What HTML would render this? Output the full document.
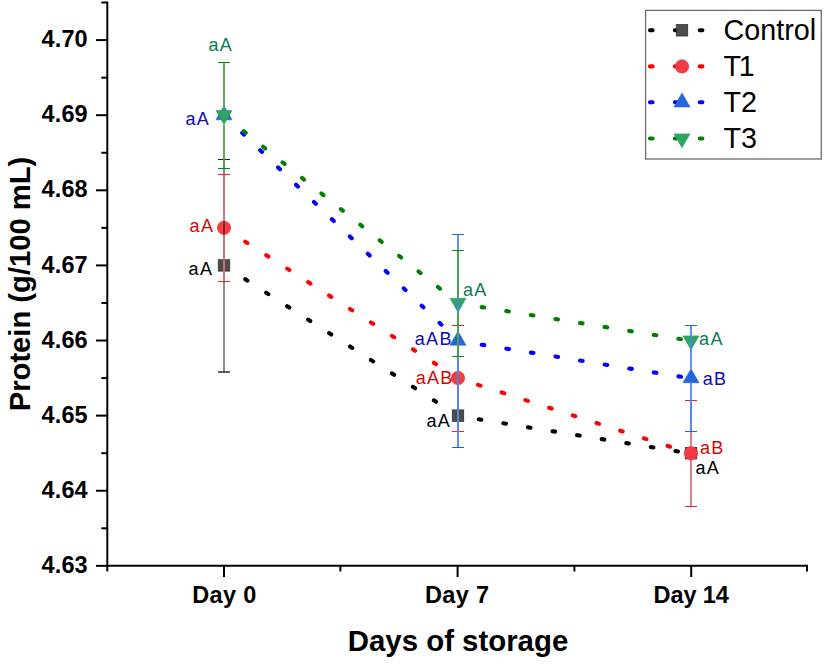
<!DOCTYPE html><html><head><meta charset="utf-8"><style>html,body{margin:0;padding:0;background:#fff;overflow:hidden;}svg{display:block;}text{font-family:"Liberation Sans",sans-serif;}</style></head><body>
<svg width="827" height="666" viewBox="0 0 827 666">
<rect width="827" height="666" fill="#fff"/>
<polyline points="224.30,265.81 458.30,416.03 691.30,453.59" fill="none" stroke="#000000" stroke-width="4.1" stroke-linecap="round" stroke-dasharray="2.6 22.3"/>
<polyline points="224.30,228.26 458.30,378.47 691.30,453.59" fill="none" stroke="#ff0000" stroke-width="4.1" stroke-linecap="round" stroke-dasharray="2.6 22.3"/>
<polyline points="224.30,115.59 458.30,340.92 691.30,378.47" fill="none" stroke="#0000ff" stroke-width="4.1" stroke-linecap="round" stroke-dasharray="2.6 22.3"/>
<polyline points="224.30,115.59 458.30,303.36 691.30,340.92" fill="none" stroke="#008000" stroke-width="4.1" stroke-linecap="round" stroke-dasharray="2.6 22.3"/>
<rect x="218.30" y="259.71" width="11.4" height="11.4" fill="#4d4d4d" stroke="#2e2e2e" stroke-width="0.8"/>
<rect x="452.30" y="409.93" width="11.4" height="11.4" fill="#4d4d4d" stroke="#2e2e2e" stroke-width="0.8"/>
<rect x="685.30" y="447.49" width="11.4" height="11.4" fill="#4d4d4d" stroke="#2e2e2e" stroke-width="0.8"/>
<circle cx="224.00" cy="227.86" r="6.7" fill="#f43c44" stroke="#f02030" stroke-width="0.6"/>
<circle cx="458.00" cy="378.07" r="6.7" fill="#f43c44" stroke="#f02030" stroke-width="0.6"/>
<circle cx="691.00" cy="453.19" r="6.7" fill="#f43c44" stroke="#f02030" stroke-width="0.6"/>
<polygon points="224.00,105.95 216.00,119.81 232.00,119.81" fill="#2466df" stroke="#1d5fdc" stroke-width="0.6"/>
<polygon points="458.00,331.28 450.00,345.14 466.00,345.14" fill="#2466df" stroke="#1d5fdc" stroke-width="0.6"/>
<polygon points="691.00,368.84 683.00,382.69 699.00,382.69" fill="#2466df" stroke="#1d5fdc" stroke-width="0.6"/>
<polygon points="224.00,124.43 216.00,110.57 232.00,110.57" fill="#30a462" stroke="#27a05a" stroke-width="0.6"/>
<polygon points="458.00,312.20 450.00,298.35 466.00,298.35" fill="#30a462" stroke="#27a05a" stroke-width="0.6"/>
<polygon points="691.00,349.76 683.00,335.90 699.00,335.90" fill="#30a462" stroke="#27a05a" stroke-width="0.6"/>
<line x1="224.0" y1="159.5" x2="224.0" y2="259.71" stroke="rgba(0,0,0,0.5)" stroke-width="1.8"/>
<line x1="224.0" y1="271.11" x2="224.0" y2="372.0" stroke="rgba(0,0,0,0.5)" stroke-width="1.8"/>
<line x1="218.0" y1="159.5" x2="230.0" y2="159.5" stroke="#1a1a1a" stroke-width="1"/>
<line x1="218.0" y1="372.0" x2="230.0" y2="372.0" stroke="#1a1a1a" stroke-width="1.4"/>
<line x1="224.0" y1="174.5" x2="224.0" y2="221.06" stroke="#d8737c" stroke-width="1.8"/>
<line x1="224.0" y1="234.66" x2="224.0" y2="281.5" stroke="#d8737c" stroke-width="1.8"/>
<line x1="218.0" y1="174.5" x2="230.0" y2="174.5" stroke="#f01c28" stroke-width="1"/>
<line x1="218.0" y1="281.5" x2="230.0" y2="281.5" stroke="#f01c28" stroke-width="1"/>
<line x1="458.0" y1="325.5" x2="458.0" y2="371.27" stroke="#d8737c" stroke-width="1.8"/>
<line x1="458.0" y1="384.87" x2="458.0" y2="431.5" stroke="#d8737c" stroke-width="1.8"/>
<line x1="452.0" y1="325.5" x2="464.0" y2="325.5" stroke="#f01c28" stroke-width="1"/>
<line x1="452.0" y1="431.5" x2="464.0" y2="431.5" stroke="#f01c28" stroke-width="1"/>
<line x1="691.0" y1="400.5" x2="691.0" y2="446.39" stroke="#d8737c" stroke-width="1.8"/>
<line x1="691.0" y1="459.99" x2="691.0" y2="506.5" stroke="#d8737c" stroke-width="1.8"/>
<line x1="685.0" y1="400.5" x2="697.0" y2="400.5" stroke="#f01c28" stroke-width="1"/>
<line x1="685.0" y1="506.5" x2="697.0" y2="506.5" stroke="#f01c28" stroke-width="1"/>
<line x1="458.0" y1="234.5" x2="458.0" y2="331.28" stroke="#4a88ee" stroke-width="1.8"/>
<line x1="458.0" y1="345.14" x2="458.0" y2="447.5" stroke="#4a88ee" stroke-width="1.8"/>
<line x1="452.0" y1="234.5" x2="464.0" y2="234.5" stroke="#1f5fe0" stroke-width="1"/>
<line x1="452.0" y1="447.5" x2="464.0" y2="447.5" stroke="#1f5fe0" stroke-width="1"/>
<line x1="691.0" y1="325.5" x2="691.0" y2="368.84" stroke="#4a88ee" stroke-width="1.8"/>
<line x1="691.0" y1="382.69" x2="691.0" y2="431.5" stroke="#4a88ee" stroke-width="1.8"/>
<line x1="685.0" y1="325.5" x2="697.0" y2="325.5" stroke="#1f5fe0" stroke-width="1"/>
<line x1="685.0" y1="431.5" x2="697.0" y2="431.5" stroke="#1f5fe0" stroke-width="1"/>
<line x1="224.0" y1="62.5" x2="224.0" y2="110.57" stroke="#45a545" stroke-width="1.8"/>
<line x1="224.0" y1="124.43" x2="224.0" y2="168.5" stroke="#45a545" stroke-width="1.8"/>
<line x1="218.0" y1="62.5" x2="230.0" y2="62.5" stroke="#0a8a0a" stroke-width="1"/>
<line x1="218.0" y1="168.5" x2="230.0" y2="168.5" stroke="#0a8a0a" stroke-width="1"/>
<line x1="458.0" y1="250.5" x2="458.0" y2="298.35" stroke="#45a545" stroke-width="1.8"/>
<line x1="458.0" y1="312.20" x2="458.0" y2="356.5" stroke="#45a545" stroke-width="1.8"/>
<line x1="452.0" y1="250.5" x2="464.0" y2="250.5" stroke="#0a8a0a" stroke-width="1"/>
<line x1="452.0" y1="356.5" x2="464.0" y2="356.5" stroke="#0a8a0a" stroke-width="1"/>
<g stroke="#000" stroke-width="2" fill="none">
<line x1="107.3" y1="1.5" x2="107.3" y2="566.9"/>
<line x1="106.3" y1="565.85" x2="808" y2="565.85"/>
<line x1="96" y1="565.85" x2="107" y2="565.85"/>
<line x1="96" y1="490.74" x2="107" y2="490.74"/>
<line x1="96" y1="415.63" x2="107" y2="415.63"/>
<line x1="96" y1="340.52" x2="107" y2="340.52"/>
<line x1="96" y1="265.41" x2="107" y2="265.41"/>
<line x1="96" y1="190.30" x2="107" y2="190.30"/>
<line x1="96" y1="115.19" x2="107" y2="115.19"/>
<line x1="96" y1="40.08" x2="107" y2="40.08"/>
<line x1="101.3" y1="528.30" x2="107" y2="528.30"/>
<line x1="101.3" y1="453.19" x2="107" y2="453.19"/>
<line x1="101.3" y1="378.08" x2="107" y2="378.08"/>
<line x1="101.3" y1="302.96" x2="107" y2="302.96"/>
<line x1="101.3" y1="227.86" x2="107" y2="227.86"/>
<line x1="101.3" y1="152.75" x2="107" y2="152.75"/>
<line x1="101.3" y1="77.64" x2="107" y2="77.64"/>
<line x1="101.3" y1="2.52" x2="107" y2="2.52"/>
<line x1="224.00" y1="565" x2="224.00" y2="577"/>
<line x1="457.60" y1="565" x2="457.60" y2="577"/>
<line x1="691.20" y1="565" x2="691.20" y2="577"/>
<line x1="107.30" y1="565" x2="107.30" y2="571.5"/>
<line x1="340.40" y1="565" x2="340.40" y2="571.5"/>
<line x1="574.40" y1="565" x2="574.40" y2="571.5"/>
<line x1="807.00" y1="565" x2="807.00" y2="571.5"/>
</g>
<text x="87.8" y="572.95" font-size="23.5" letter-spacing="0.12" font-weight="bold" text-anchor="end">4.63</text>
<text x="87.8" y="497.84" font-size="23.5" letter-spacing="0.12" font-weight="bold" text-anchor="end">4.64</text>
<text x="87.8" y="422.73" font-size="23.5" letter-spacing="0.12" font-weight="bold" text-anchor="end">4.65</text>
<text x="87.8" y="347.62" font-size="23.5" letter-spacing="0.12" font-weight="bold" text-anchor="end">4.66</text>
<text x="87.8" y="272.51" font-size="23.5" letter-spacing="0.12" font-weight="bold" text-anchor="end">4.67</text>
<text x="87.8" y="197.40" font-size="23.5" letter-spacing="0.12" font-weight="bold" text-anchor="end">4.68</text>
<text x="87.8" y="122.29" font-size="23.5" letter-spacing="0.12" font-weight="bold" text-anchor="end">4.69</text>
<text x="87.8" y="47.18" font-size="23.5" letter-spacing="0.12" font-weight="bold" text-anchor="end">4.70</text>
<text x="224.38" y="602.6" font-size="23.5" letter-spacing="0.35" font-weight="bold" text-anchor="middle">Day 0</text>
<text x="457.18" y="602.6" font-size="23.5" letter-spacing="0.35" font-weight="bold" text-anchor="middle">Day 7</text>
<text x="691.15" y="602.6" font-size="23.5" letter-spacing="-0.1" font-weight="bold" text-anchor="middle">Day 14</text>
<text transform="translate(458.0,650.7) scale(1,1.03)" font-size="29.4" font-weight="bold" text-anchor="middle">Days of storage</text>
<text transform="translate(29.6,284.0) rotate(-90) scale(1,1.04)" font-size="29.2" font-weight="bold" text-anchor="middle">Protein (g/100 mL)</text>
<text x="208.50" y="51.00" font-size="18" letter-spacing="1.3" fill="#0b7d55">aA</text>
<text x="185.40" y="124.50" font-size="18" letter-spacing="1.3" fill="#0b0bb0">aA</text>
<text x="189.60" y="232.10" font-size="18" letter-spacing="1.3" fill="#cc0a0a">aA</text>
<text x="188.60" y="274.60" font-size="18" letter-spacing="1.3" fill="#000000">aA</text>
<text x="463.00" y="295.70" font-size="18" letter-spacing="1.3" fill="#0b7d55">aA</text>
<text x="414.80" y="345.10" font-size="18" letter-spacing="1.3" fill="#0b0bb0">aAB</text>
<text x="415.70" y="384.10" font-size="18" letter-spacing="1.3" fill="#cc0a0a">aAB</text>
<text x="426.40" y="426.60" font-size="18" letter-spacing="1.3" fill="#000000">aA</text>
<text x="699.10" y="344.60" font-size="18" letter-spacing="1.3" fill="#0b7d55">aA</text>
<text x="702.70" y="384.90" font-size="18" letter-spacing="1.3" fill="#0b0bb0">aB</text>
<text x="699.90" y="453.90" font-size="18" letter-spacing="1.3" fill="#cc0a0a">aB</text>
<text x="695.40" y="473.90" font-size="18" letter-spacing="1.3" fill="#000000">aA</text>
<rect x="645.6" y="10.4" width="175.65" height="148.6" fill="#fff" stroke="#6a6a6a" stroke-width="1.3"/>
<line x1="650.0" y1="30.3" x2="705" y2="30.3" stroke="#000000" stroke-width="4.1" stroke-linecap="round" stroke-dasharray="2.6 22.3"/>
<rect x="676.30" y="24.60" width="11.4" height="11.4" fill="#4d4d4d" stroke="#2e2e2e" stroke-width="0.8"/>
<text transform="translate(723.6,39.70) scale(1,1.06)" font-size="28.7">Control</text>
<line x1="650.0" y1="66.4" x2="705" y2="66.4" stroke="#ff0000" stroke-width="4.1" stroke-linecap="round" stroke-dasharray="2.6 22.3"/>
<circle cx="682.00" cy="66.40" r="6.7" fill="#f43c44" stroke="#f02030" stroke-width="0.6"/>
<text transform="translate(723.6,75.80) scale(1,1.06)" font-size="28.7">T<tspan dx="-2.5">1</tspan></text>
<line x1="650.0" y1="102.3" x2="705" y2="102.3" stroke="#0000ff" stroke-width="4.1" stroke-linecap="round" stroke-dasharray="2.6 22.3"/>
<polygon points="682.00,93.06 674.00,106.92 690.00,106.92" fill="#2466df" stroke="#1d5fdc" stroke-width="0.6"/>
<text transform="translate(723.6,111.70) scale(1,1.06)" font-size="28.7">T2</text>
<line x1="650.0" y1="138.5" x2="705" y2="138.5" stroke="#008000" stroke-width="4.1" stroke-linecap="round" stroke-dasharray="2.6 22.3"/>
<polygon points="682.00,147.74 674.00,133.88 690.00,133.88" fill="#30a462" stroke="#27a05a" stroke-width="0.6"/>
<text transform="translate(723.6,147.90) scale(1,1.06)" font-size="28.7">T3</text>
</svg></body></html>
